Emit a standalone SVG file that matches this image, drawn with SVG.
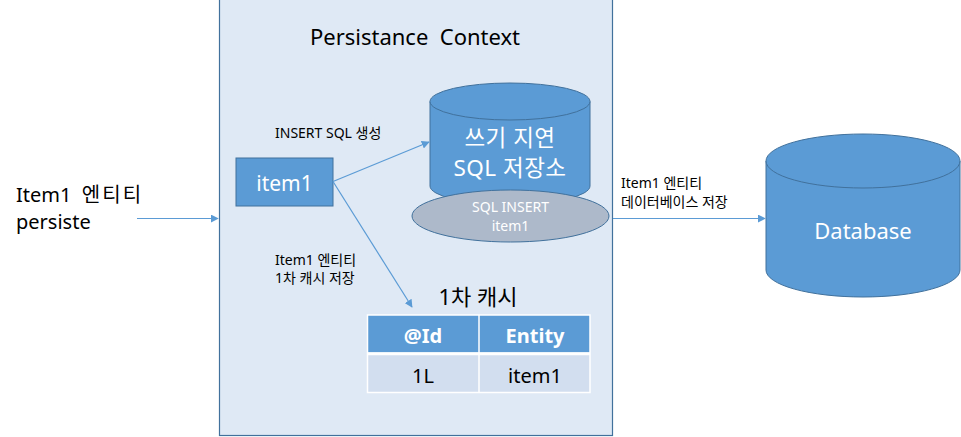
<svg xmlns="http://www.w3.org/2000/svg" width="961" height="437" viewBox="0 0 961 437">
<defs>
<style>
text{font-family:"Noto Sans","Noto Sans CJK KR",sans-serif;}
.lbl{font-size:14px;fill:#000;}
.wt{fill:#fff;}
.cyl{fill:#5B9BD5;stroke:#41719C;stroke-width:1;}
.conn{stroke:#5B9BD5;stroke-width:1.2;fill:none;marker-end:url(#ah);}
</style>
<marker id="ah" viewBox="0 0 10 10" refX="9" refY="5" markerWidth="8" markerHeight="8" markerUnits="userSpaceOnUse" orient="auto">
<path d="M0,0 L10,5 L0,10 z" fill="#5B9BD5"/>
</marker>
</defs>
<rect width="961" height="437" fill="#fff"/>
<g id="context">
<rect x="219.5" y="-1" width="393" height="436.5" fill="#DFE9F5" stroke="#41719C" stroke-width="1.2"/>
<text x="415" y="45" font-size="22" text-anchor="middle" xml:space="preserve" style="white-space:pre">Persistance  Context</text>
</g>
<g id="input-label">
<text x="16" y="202" font-size="20" xml:space="preserve" style="white-space:pre">Item1  <tspan letter-spacing="2">엔티티</tspan></text>
<text x="16" y="229" font-size="20">persiste</text>
</g>
<g id="item1">
<rect x="236" y="158" width="97" height="48" fill="#5B9BD5" stroke="#41719C"/>
<text x="284.5" y="191" font-size="21" text-anchor="middle" class="wt">item1</text>
</g>
<g id="sql-store">
<path class="cyl" d="M430,101.5 V186 A80,18.5 0 0 0 590,186 V101.5"/>
<ellipse class="cyl" cx="510" cy="101.5" rx="80" ry="18.5"/>
<text x="510" y="146" font-size="22.5" text-anchor="middle" class="wt" letter-spacing="0.5">쓰기 지연</text>
<text x="510" y="176" font-size="22.5" text-anchor="middle" class="wt" letter-spacing="0.5">SQL 저장소</text>
</g>
<g id="sql-insert">
<ellipse cx="510.5" cy="216" rx="98.5" ry="26" fill="#ADB9CA" stroke="#41719C"/>
<text x="510.5" y="212" font-size="14" text-anchor="middle" class="wt">SQL INSERT</text>
<text x="510.5" y="231" font-size="14" text-anchor="middle" class="wt">item1</text>
</g>
<g id="cache">
<text x="478" y="305" font-size="22" text-anchor="middle">1차 캐시</text>
<rect x="367.5" y="315" width="111.5" height="37.5" fill="#5B9BD5"/>
<rect x="479" y="315" width="111" height="37.5" fill="#5B9BD5"/>
<rect x="367.5" y="355" width="111.5" height="37.5" fill="#D2DEEF"/>
<rect x="479" y="355" width="111" height="37.5" fill="#D2DEEF"/>
<path d="M367.5,315 H590 V392.5 H367.5 Z M479,315 V392.5 M367.5,353.5 H590" fill="none" stroke="#fff" stroke-width="1.5"/>
<path d="M367.5,353.8 H590" stroke="#fff" stroke-width="3"/>
<text x="423" y="343" font-size="20" font-weight="bold" text-anchor="middle" class="wt">@Id</text>
<text x="535" y="343" font-size="20" font-weight="bold" text-anchor="middle" class="wt">Entity</text>
<text x="423" y="383" font-size="20" text-anchor="middle">1L</text>
<text x="535" y="383" font-size="20" text-anchor="middle">item1</text>
</g>
<g id="database">
<path class="cyl" d="M766,161 V270 A97,27 0 0 0 960,270 V161"/>
<ellipse class="cyl" cx="863" cy="161" rx="97" ry="27"/>
<text x="863" y="239" font-size="22" text-anchor="middle" class="wt">Database</text>
</g>
<g id="connectors">
<path class="conn" d="M137,218.5 H218"/>
<path class="conn" d="M333,181.5 L429,142"/>
<path class="conn" d="M333,181.5 L412,307"/>
<path class="conn" d="M613,218.5 H765"/>
<text x="275" y="138" class="lbl">INSERT SQL 생성</text>
<text x="275" y="265" class="lbl">Item1 엔티티</text>
<text x="275" y="283" class="lbl">1차 캐시 저장</text>
<text x="621" y="188" class="lbl">Item1 엔티티</text>
<text x="621" y="207" class="lbl">데이터베이스 저장</text>
</g>
</svg>
